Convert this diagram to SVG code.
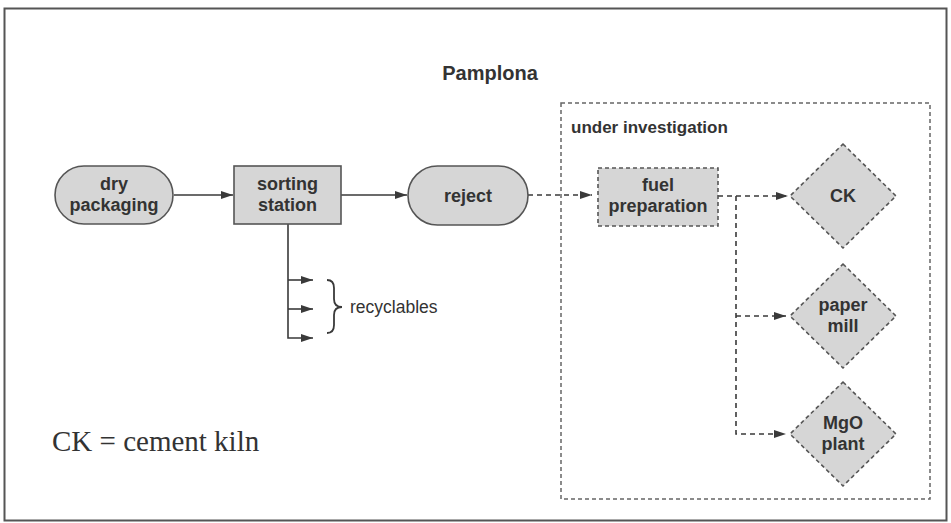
<svg xmlns="http://www.w3.org/2000/svg" width="951" height="523" viewBox="0 0 951 523">
<defs>
<marker id="ah" markerWidth="14" markerHeight="10" refX="12" refY="5" orient="auto" markerUnits="userSpaceOnUse">
<path d="M0,1 L12,5 L0,9 Z" fill="#3a3a3a"/>
</marker>
</defs>
<style>
.lbl{font-family:"Liberation Sans",Arial,sans-serif;font-weight:bold;font-size:18px;fill:#333;text-anchor:middle}
.node{fill:#d6d6d6;stroke:#555;stroke-width:1.6}
.dnode{fill:#d6d6d6;stroke:#555;stroke-width:1.6;stroke-dasharray:4 3}
.solid{stroke:#3a3a3a;stroke-width:1.6;fill:none}
.dash{stroke:#3a3a3a;stroke-width:1.6;fill:none;stroke-dasharray:5 4}
</style>
<rect x="0" y="0" width="951" height="523" fill="#fff"/>
<rect x="4.5" y="8.5" width="942" height="512" fill="none" stroke="#555" stroke-width="2"/>
<text x="490" y="80" class="lbl" style="font-size:20px">Pamplona</text>
<g id="investigation">
<rect x="561" y="103" width="369" height="396" fill="none" stroke="#666" stroke-width="1.5" stroke-dasharray="4 3"/>
<text x="571" y="133" class="lbl" style="text-anchor:start;font-size:17px">under investigation</text>
</g>
<g id="connectors">
<line x1="174" y1="195" x2="233" y2="195" class="solid" marker-end="url(#ah)"/>
<line x1="341" y1="195" x2="407" y2="195" class="solid" marker-end="url(#ah)"/>
<polyline points="288,224 288,338 313,338" class="solid" marker-end="url(#ah)"/>
<line x1="288" y1="280" x2="313" y2="280" class="solid" marker-end="url(#ah)"/>
<line x1="288" y1="309" x2="313" y2="309" class="solid" marker-end="url(#ah)"/>
<line x1="528" y1="195" x2="592" y2="195" class="dash" marker-end="url(#ah)"/>
<line x1="718" y1="196" x2="788" y2="196" class="dash" marker-end="url(#ah)"/>
<polyline points="736,196 736,434 786,434" class="dash" marker-end="url(#ah)"/>
<line x1="736" y1="316" x2="786" y2="316" class="dash" marker-end="url(#ah)"/>
</g>
<g id="recyclables">
<path d="M327,280 Q334,280 334,288 L334,299 Q334,307 342,307 Q334,307 334,315 L334,325 Q334,333 327,333" fill="none" stroke="#3a3a3a" stroke-width="1.8"/>
<text x="350" y="313" style="font-family:'Liberation Sans',Arial,sans-serif;font-size:17.5px;fill:#333">recyclables</text>
</g>
<g id="dry-packaging">
<rect x="55" y="166" width="118" height="58" rx="29" class="node"/>
<text x="114" y="190" class="lbl">dry</text>
<text x="114" y="211" class="lbl">packaging</text>
</g>
<g id="sorting-station">
<rect x="234" y="166" width="107" height="58" class="node"/>
<text x="287.5" y="190" class="lbl">sorting</text>
<text x="287.5" y="211" class="lbl">station</text>
</g>
<g id="reject">
<rect x="408" y="166" width="120" height="59" rx="29.5" class="node"/>
<text x="468" y="202" class="lbl">reject</text>
</g>
<g id="fuel-preparation">
<rect x="598" y="168" width="120" height="58" class="dnode"/>
<text x="658" y="191" class="lbl">fuel</text>
<text x="658" y="212" class="lbl">preparation</text>
</g>
<g id="ck">
<polygon points="843,144 896,196 843,248 790,196" class="dnode"/>
<text x="843" y="202" class="lbl">CK</text>
</g>
<g id="paper-mill">
<polygon points="843,264 896,316 843,368 790,316" class="dnode"/>
<text x="843" y="311" class="lbl">paper</text>
<text x="843" y="332" class="lbl">mill</text>
</g>
<g id="mgo-plant">
<polygon points="843,382 896,434 843,486 790,434" class="dnode"/>
<text x="843" y="429" class="lbl">MgO</text>
<text x="843" y="450" class="lbl">plant</text>
</g>
<text x="52" y="451" style="font-family:'Liberation Serif','Times New Roman',serif;font-size:29px;fill:#333">CK = cement kiln</text>
</svg>
